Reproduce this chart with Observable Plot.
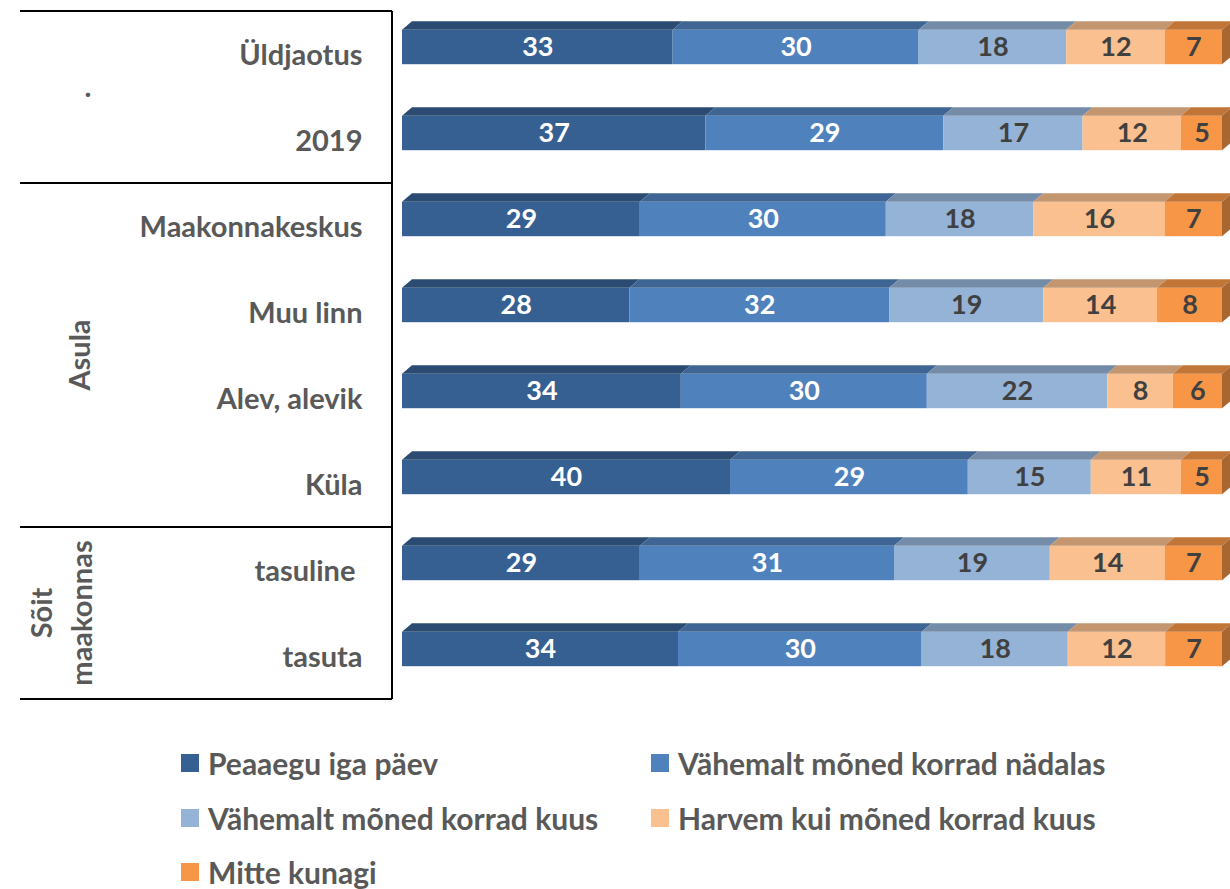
<!DOCTYPE html>
<html><head><meta charset="utf-8">
<script src="https://cdn.jsdelivr.net/npm/d3@7"></script>
<script src="https://cdn.jsdelivr.net/npm/@observablehq/plot@0.6"></script>
<style>
body{margin:0;background:#fff;font-family:Lato,sans-serif;}
#chart{position:relative;width:1230px;height:889px;overflow:hidden;}
.item{position:absolute;display:flex;align-items:center;height:28px;line-height:28px;color:#595959;font-weight:bold;font-size:30px;white-space:nowrap;}
.sw{width:18px;height:18px;margin-right:9px;flex:none;}
</style></head><body><div id="chart"></div>
<script>
const categories = ["Üldjaotus","2019","Maakonnakeskus","Muu linn","Alev, alevik","Küla","tasuline","tasuta"];
const series = ["Peaaegu iga päev","Vähemalt mõned korrad nädalas","Vähemalt mõned korrad kuus","Harvem kui mõned korrad kuus","Mitte kunagi"];
const peaaegu = [33,37,29,28,34,40,29,34];
const nadalas = [30,29,30,32,30,29,31,30];
const kuus    = [18,17,18,19,22,15,19,18];
const harvem  = [12,12,16,14,8,11,14,12];
const mitte   = [7,5,7,8,6,5,7,7];
const colors = ["#376092","#4f81bd","#95b3d7","#fac090","#f79646"];
const labelColors = ["#ffffff","#ffffff","#404040","#404040","#404040"];
const groups = [
  {name: ".", first: "Üldjaotus", last: "2019", cx: 88},
  {name: "Asula", first: "Maakonnakeskus", last: "Küla", cx: 80},
  {name: "Sõit\nmaakonnas", first: "tasuline", last: "tasuta", cx: 62}
];

const seriesValues = [peaaegu, nadalas, kuus, harvem, mitte];
const rows = [];
categories.forEach((c, ci) => seriesValues.forEach((vals, si) => rows.push({cat: c, series: series[si], si, value: vals[ci]})));

const INSET = 25.8, DX = 10, DY = 8.5, OFF = 7;
const shade = (hex, k) => { const c = d3.rgb(hex); return d3.rgb(c.r*k, c.g*k, c.b*k).formatHex(); };

function faces(index, scales, values, dimensions, context, next) {
  const g = next(index, scales, values, dimensions, context);
  const bw = scales.y.bandwidth();
  const sel = d3.select(g);
  for (const i of index) {
    const x1 = Math.min(values.x1[i], values.x2[i]);
    const x2 = Math.max(values.x1[i], values.x2[i]);
    const yt = values.y[i] + INSET;
    const h = bw - 2 * INSET;
    const col = colors[rows[i].si];
    sel.append("path")
      .attr("d", `M${x1},${yt}L${x2},${yt}L${x2+DX},${yt-DY}L${x1+DX},${yt-DY}Z`)
      .attr("fill", shade(col, 0.78));
    if (rows[i].si === series.length - 1) {
      sel.append("path")
        .attr("d", `M${x2},${yt}L${x2+DX},${yt-DY}L${x2+DX},${yt+h-DY}L${x2},${yt+h}Z`)
        .attr("fill", shade(col, 0.68));
    }
  }
  return g;
}

function table(index, scales, values, dimensions) {
  const y = scales.y, bw = y.bandwidth();
  const g = d3.create("svg:g");
  const xl = 20, xr = dimensions.marginLeft - 10;
  const top = y(categories[0]) + OFF, bottom = y(categories[categories.length-1]) + bw + OFF;
  const hl = [top, ...groups.slice(1).map(gr => y(gr.first) + OFF), bottom];
  hl.forEach(yy => g.append("line").attr("x1", xl).attr("x2", xr).attr("y1", yy).attr("y2", yy)
    .attr("stroke", "#000").attr("stroke-width", 2));
  g.append("line").attr("x1", xr).attr("x2", xr).attr("y1", top).attr("y2", bottom)
    .attr("stroke", "#000").attr("stroke-width", 2);
  groups.forEach(gr => {
    const cy = (y(gr.first) + y(gr.last) + bw) / 2 + OFF;
    const parts = gr.name.split("\n");
    const cx = gr.cx;
    if (gr.name === ".") {
      g.append("text").attr("x", cx).attr("y", cy).attr("text-anchor", "middle")
        .attr("font-size", 29).attr("font-weight", "bold").attr("fill", "#595959").text(gr.name);
    } else {
      const t = g.append("text").attr("transform", `translate(${cx},${cy}) rotate(-90)`)
        .attr("text-anchor", "middle").attr("font-size", 29).attr("font-weight", "bold").attr("fill", "#595959");
      const lh = 40;
      parts.forEach((ln, k) => {
        t.append("tspan").attr("x", 0).attr("y", (k - (parts.length - 1) / 2) * lh).attr("dy", "0.35em").text(ln);
      });
    }
  });
  return g.node();
}

const plot = Plot.plot({
  width: 1230,
  height: 720,
  marginLeft: 402,
  marginRight: 8,
  marginTop: 0,
  marginBottom: 0,
  style: {fontFamily: "Lato, sans-serif", color: "#595959", background: "transparent"},
  x: {domain: [0, 1], axis: null},
  y: {domain: categories, range: [1.18, 694.3], padding: 0, axis: null},
  color: {type: "identity"},
  marks: [
    Plot.barX(rows, Plot.stackX({offset: "normalize", x: "value", y: "cat", z: "series",
      fill: d => colors[d.si], insetTop: INSET, insetBottom: INSET, render: faces})),
    Plot.text(rows, Plot.stackX({offset: "normalize", x: "value", y: "cat", z: "series",
      text: "value", fill: d => labelColors[d.si], fontSize: 27, fontWeight: "bold"})),
    Plot.axisY({tickSize: 0, tickPadding: 40, fontSize: 29, fontWeight: "bold", dy: 8, label: null,
      tickFormat: d => d === "tasuline" ? "tasuline\u00a0" : d}),
    table
  ]
});

const chart = document.getElementById("chart");
chart.appendChild(plot);

const colX = [181, 651], rowY = [763, 818, 872];
series.forEach((s, i) => {
  const it = document.createElement("div");
  it.className = "item";
  it.style.left = colX[i % 2] + "px";
  it.style.top = (rowY[Math.floor(i / 2)] - 14) + "px";
  const sw = document.createElement("span");
  sw.className = "sw";
  sw.style.background = colors[i];
  const tx = document.createElement("span");
  tx.textContent = s;
  it.appendChild(sw); it.appendChild(tx);
  chart.appendChild(it);
});
</script></body></html>
